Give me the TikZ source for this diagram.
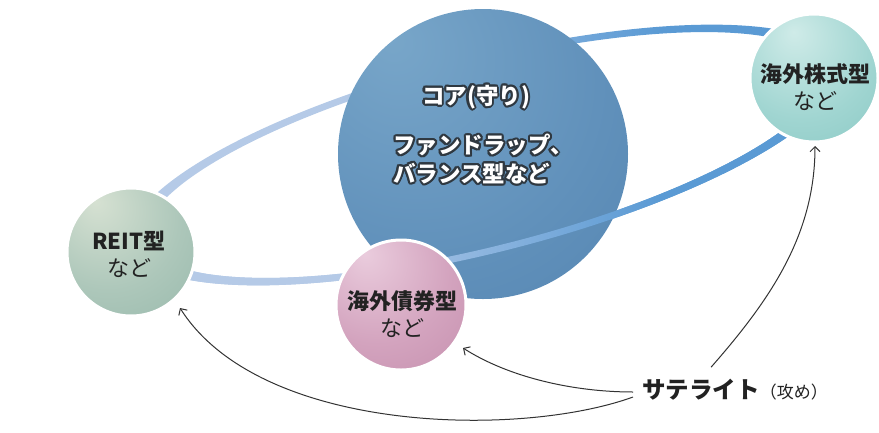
\documentclass[tikz,border=0pt]{standalone}
\usepackage{fontspec}
\setmainfont{Noto Sans CJK JP}
\usetikzlibrary{arrows.meta,calc}
\definecolor{ringL}{HTML}{B5CAE7}
\definecolor{ringR}{HTML}{5A9AD4}
\definecolor{coreA}{HTML}{78A6C9}
\definecolor{coreB}{HTML}{6191BB}
\definecolor{coreC}{HTML}{4C7CAA}
\definecolor{reitA}{HTML}{D6E1D2}
\definecolor{reitB}{HTML}{ADC7BA}
\definecolor{reitC}{HTML}{8AB0A3}
\definecolor{pinkA}{HTML}{EACCDD}
\definecolor{pinkB}{HTML}{D3A3BE}
\definecolor{pinkC}{HTML}{BC82A3}
\definecolor{tealA}{HTML}{CFEBE8}
\definecolor{tealB}{HTML}{A0D5D1}
\definecolor{tealC}{HTML}{78BFBA}
\definecolor{glowc}{HTML}{2F3840}
\definecolor{inkc}{HTML}{222222}
\definecolor{arrc}{HTML}{333333}
\pgfdeclarehorizontalshading{ringsh}{100bp}{color(0bp)=(ringL); color(40bp)=(ringL); color(62bp)=(ringR); color(100bp)=(ringR)}
\pgfdeclareradialshading{coresh}{\pgfpoint{-16bp}{20bp}}{color(0bp)=(coreA); color(30bp)=(coreB); color(64bp)=(coreC); color(80bp)=(coreC)}
\pgfdeclareradialshading{reitsh}{\pgfpoint{-14bp}{20bp}}{color(0bp)=(reitA); color(28bp)=(reitB); color(62bp)=(reitC); color(80bp)=(reitC)}
\pgfdeclareradialshading{pinksh}{\pgfpoint{-14bp}{20bp}}{color(0bp)=(pinkA); color(28bp)=(pinkB); color(62bp)=(pinkC); color(80bp)=(pinkC)}
\pgfdeclareradialshading{tealsh}{\pgfpoint{-8bp}{18bp}}{color(0bp)=(tealA); color(28bp)=(tealB); color(62bp)=(tealC); color(80bp)=(tealC)}
\begin{document}
\begin{tikzpicture}[x=1pt,y=-1pt,
  ball/.style={circle, inner sep=0pt, draw=white, line width=3pt, shade},
  lab/.style={font=\fontsize{22}{27}\selectfont, align=center, text=inkc, inner sep=0pt},
  coretxt/.style={font=\fontsize{22.5}{28.5}\selectfont\bfseries, inner sep=0pt},
  conn/.style={draw=arrc, line width=1pt, -{Straight Barb[length=5pt,width=10pt,line width=1pt]}},
  ringpath/.style={shading=ringsh, even odd rule}]
\useasboundingbox (0,0) rectangle (879,432);
% ring (back)
\begin{scope}[shift={(485,155)}, rotate=14.2]
  \shade[ringpath] (0,0) ellipse [x radius=366, y radius=97.5] (0,0) ellipse [x radius=349, y radius=91];
\end{scope}
% core sphere
\node[circle, inner sep=0pt, minimum size=290pt, shade, shading=coresh] (core) at (483,154) {};
% ring (front, lower half)
\begin{scope}[shift={(485,155)}, rotate=14.2]
  \clip (-420,0) rectangle (420,140);
  \shade[ringpath] (0,0) ellipse [x radius=366, y radius=97.5] (0,0) ellipse [x radius=349, y radius=91];
\end{scope}
% satellite spheres
\node[ball, minimum size=128pt, shading=reitsh] (reit) at (131,252) {};
\node[ball, minimum size=130pt, shading=pinksh] (pink) at (401,305) {};
\node[ball, minimum size=128pt, shading=tealsh] (teal) at (814,78) {};
% core text with dark outline
\foreach \r in {2.1,1.2}{
\foreach \a [count=\i] in {0,22.5,...,337.5}{
  \node[coretxt, text=glowc, opacity=.9] (ga\i) at ($(476,97)+(\a:\r)$) {コア(守り)};
  \node[coretxt, text=glowc, opacity=.9, anchor=west, align=left] (gb\i) at ($(393,159)+(\a:\r)$) {ファンドラップ、\\バランス型など};
}}
\node[coretxt, text=white] (coreT1) at (476,97) {コア(守り)};
\node[coretxt, text=white, anchor=west, align=left] (coreT2) at (393,159) {ファンドラップ、\\バランス型など};
% sphere labels
\node[lab] (reitT) at (129,254) {{\bfseries REIT型}\\など};
\node[lab] (pinkT) at (402,314) {{\bfseries 海外債券型}\\など};
\node[lab] (tealT) at (815,87) {{\bfseries 海外株式型}\\など};
% satellite label
\node[inner sep=0pt, text=inkc] (sat) at (735,390) {{\fontsize{23.5}{28}\selectfont\bfseries サテライト}{\fontsize{17}{20}\selectfont （攻め）}};
% connector ends
\coordinate (s1) at ($(sat.north west)+(69,-12)$);
\coordinate (s2) at ($(sat.west)+(-9,2)$);
\coordinate (s3) at ($(sat.west)+(-9,7)$);
\coordinate (tealTip) at ($(teal.center)+(1,68)$);
\coordinate (pinkTip) at ($(pink.center)+(62,43)$);
\coordinate (reitTip) at ($(reit.center)+(49,56)$);
% arrows
\draw[conn] (s1) .. controls (770,300) and (815,235) .. (tealTip);
\draw[conn] (s2) .. controls (575,392) and (510,378) .. (pinkTip);
\draw[conn] (s3) .. controls (520,438) and (260,434) .. (reitTip);
\end{tikzpicture}
\end{document}
